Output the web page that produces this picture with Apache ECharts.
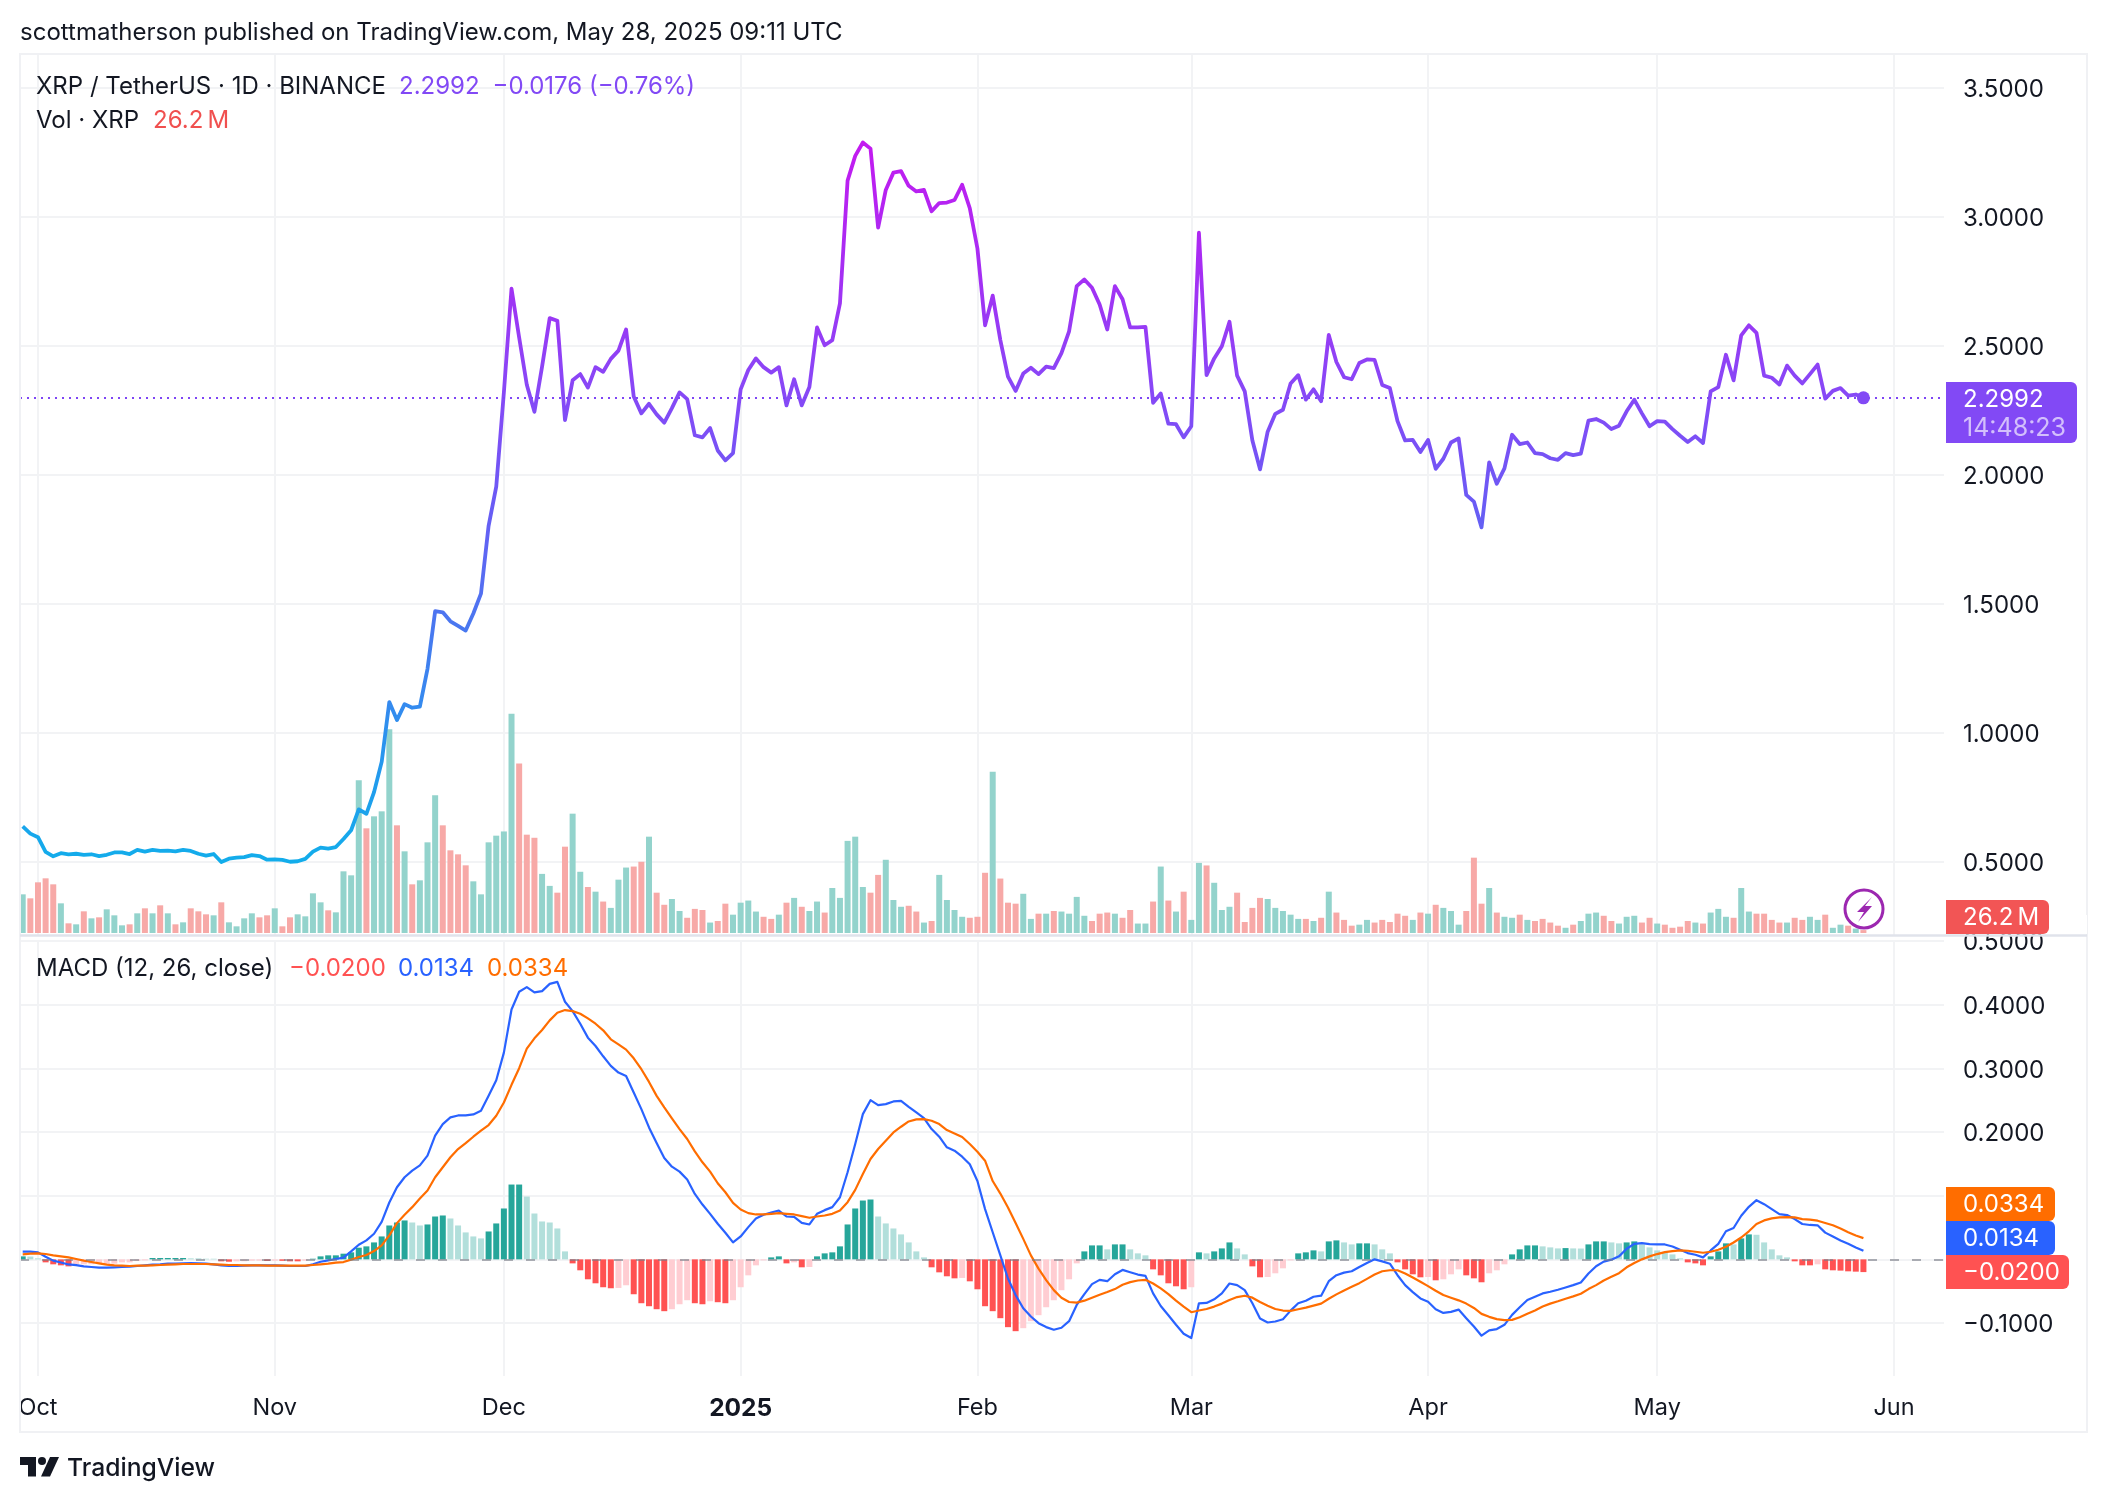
<!DOCTYPE html>
<html><head><meta charset="utf-8">
<style>html,body{margin:0;padding:0;background:#fff}#c{width:2108px;height:1502px}</style>
<script src="https://cdn.jsdelivr.net/npm/echarts@6/dist/echarts.min.js"></script>
</head><body><div id="c"></div>
<script>
const closes = [
.638,.61,.596,.539,.522,.534,.53,.532,.528,.53,
.523,.528,.537,.537,.531,.547,.54,.547,.543,.544,
.541,.547,.543,.532,.525,.531,.5,.513,.517,.519,
.527,.523,.509,.51,.508,.501,.503,.512,.54,.556,
.552,.558,.589,.623,.704,.687,.771,.888,1.12,1.05,
1.112,1.098,1.102,1.249,1.472,1.468,1.433,1.415,1.397,1.463,
1.54,1.803,1.955,2.32,2.722,2.533,2.35,2.245,2.42,2.608,
2.598,2.213,2.367,2.391,2.339,2.418,2.40,2.45,2.482,2.564,
2.304,2.239,2.276,2.235,2.203,2.259,2.32,2.294,2.154,2.146,
2.182,2.095,2.057,2.085,2.332,2.407,2.452,2.418,2.397,2.418,
2.27,2.371,2.27,2.341,2.572,2.503,2.523,2.665,3.141,3.237,
3.289,3.265,2.959,3.105,3.172,3.178,3.121,3.099,3.105,3.022,
3.054,3.056,3.066,3.125,3.034,2.878,2.58,2.695,2.523,2.381,
2.326,2.393,2.416,2.391,2.42,2.414,2.472,2.557,2.732,2.758,
2.726,2.661,2.564,2.732,2.681,2.572,2.572,2.574,2.28,2.316,
2.199,2.197,2.146,2.189,2.939,2.387,2.452,2.499,2.594,2.385,
2.324,2.134,2.022,2.168,2.237,2.253,2.355,2.387,2.292,2.332,
2.286,2.543,2.438,2.379,2.371,2.434,2.448,2.446,2.349,2.337,
2.209,2.134,2.136,2.089,2.136,2.024,2.063,2.126,2.142,1.923,
1.897,1.797,2.049,1.966,2.026,2.156,2.12,2.126,2.085,2.081,
2.065,2.059,2.085,2.077,2.083,2.211,2.217,2.203,2.178,2.191,
2.247,2.292,2.239,2.189,2.209,2.207,2.178,2.152,2.128,2.15,
2.124,2.324,2.341,2.466,2.367,2.541,2.58,2.551,2.385,2.377,
2.351,2.424,2.385,2.355,2.391,2.428,2.296,2.326,2.337,2.308,
2.312,2.2992];

const volumesM = [
348,312,456,492,438,267,87,78,195,132,
141,213,159,69,78,177,222,177,249,177,
78,96,222,195,168,159,276,96,60,132,
177,141,159,222,60,141,168,150,357,276,
204,186,555,519,1374,942,1050,1095,1833,969,
735,438,474,816,1239,969,744,708,609,465,
348,816,876,914,1973,1526,885,857,532,424,
363,777,1074,551,414,372,283,226,480,589,
598,641,867,363,254,306,198,137,217,207,
94,108,264,165,273,292,193,146,127,165,
273,316,236,198,283,184,405,316,829,867,
414,363,523,659,297,236,245,193,94,108,
523,297,207,146,137,146,542,1451,490,273,
264,353,127,174,174,198,193,174,325,155,
108,174,184,174,137,207,85,85,283,598,
292,193,372,118,631,608,452,207,236,363,
99,226,316,306,226,198,165,127,127,108,
137,372,184,118,66,75,118,94,118,99,
174,155,118,184,174,254,226,198,75,198,
678,264,405,184,146,137,165,118,108,127,
94,66,47,75,108,174,184,155,108,85,
146,155,94,137,85,75,47,57,108,94,
85,184,217,146,137,405,193,174,174,118,
94,94,137,118,146,118,165,47,75,66,
40,26.2];

const volumeUp = [
1,0,0,0,0,1,0,1,0,1,
0,1,1,1,0,1,0,1,0,1,
0,1,0,0,0,1,0,1,1,1,
1,0,0,1,0,0,1,1,1,1,
0,1,1,1,1,0,1,1,1,0,
1,0,1,1,1,0,0,0,0,1,
1,1,1,1,1,0,0,0,1,1,
0,0,1,1,0,1,0,1,1,1,
0,0,1,0,0,1,1,0,0,0,
1,0,0,1,1,1,1,0,0,1,
0,1,0,1,1,0,1,1,1,1,
1,0,0,1,1,1,0,0,1,0,
1,1,1,1,0,0,0,1,0,0,
0,1,1,0,1,0,1,1,1,1,
0,0,0,1,0,0,1,1,0,1,
0,1,0,1,1,0,1,1,1,0,
0,0,0,1,1,1,1,1,0,1,
0,1,0,0,0,1,1,0,0,0,
0,0,1,0,1,0,1,1,1,0,
0,0,1,0,1,1,0,1,0,0,
0,0,1,0,1,1,1,0,0,1,
1,1,0,0,1,0,0,0,0,1,
0,1,1,1,0,1,1,0,0,0,
0,1,0,0,1,1,0,1,1,0,
1,0];

const macdLine = [
.012,.012,.011,.004,-.002,-.005,-.008,-.009,-.011,-.012,
-.013,-.013,-.0125,-.012,-.0115,-.0104,-.0094,-.0084,-.0078,-.0068,
-.0068,-.0063,-.0057,-.0063,-.0068,-.0078,-.0094,-.0104,-.0104,-.0099,
-.0094,-.0094,-.0094,-.0094,-.0099,-.0104,-.0104,-.0104,-.0078,-.0037,
-.0016,.0005,.0026,.0125,.023,.0298,.0402,.059,.0893,.1133,
.1289,.1394,.1477,.1629,.1942,.2125,.2229,.226,.226,.2276,
.2333,.2568,.2814,.3247,.3925,.4202,.4275,.4192,.4213,.4327,
.4359,.4046,.3899,.3701,.3482,.3351,.3189,.3038,.2934,.2881,
.262,.2359,.2072,.1827,.1592,.1456,.1378,.1253,.1028,.0861,
.0715,.0559,.0418,.0266,.036,.0506,.0642,.07,.0736,.0767,
.0673,.0668,.0574,.0548,.0715,.0773,.082,.0976,.1368,.1811,
.2281,.25,.2422,.2438,.248,.249,.2396,.2307,.2219,.2046,
.1926,.1759,.1707,.1613,.1493,.123,.0789,.0426,.0062,-.0301,
-.0561,-.0768,-.0898,-.1002,-.1064,-.1105,-.1074,-.0971,-.0716,-.0545,
-.0389,-.0322,-.0343,-.0234,-.0166,-.0202,-.0239,-.026,-.0535,-.0732,
-.0877,-.1028,-.1168,-.1235,-.069,-.0685,-.0628,-.0535,-.0379,-.0405,
-.0483,-.069,-.0929,-.0992,-.0976,-.094,-.0805,-.069,-.0649,-.0587,
-.0571,-.0343,-.0249,-.0208,-.0187,-.0119,-.0057,0,-.0031,-.0068,
-.0249,-.0405,-.0514,-.0613,-.0665,-.0784,-.0841,-.0825,-.0789,-.0924,
-.1054,-.1199,-.1116,-.1095,-.1028,-.0872,-.0753,-.0639,-.0587,-.0535,
-.0509,-.0478,-.0441,-.0405,-.0363,-.0223,-.0109,-.0036,-.0005,.0047,
.0166,.0244,.0254,.0239,.0234,.0234,.0202,.0151,.0099,.0073,
.0031,.014,.0244,.0441,.0493,.0685,.0825,.0929,.0867,.0789,
.0711,.0696,.0633,.0555,.054,.0535,.042,.0358,.0296,.0244,
.0187,.0134];

const signalLine = [
.0078,.0089,.0094,.0084,.0063,.0047,.0031,.0005,-.0021,-.0042,
-.0063,-.0084,-.0094,-.0099,-.0104,-.0099,-.0099,-.0094,-.0089,-.0084,
-.0078,-.0073,-.0073,-.0073,-.0073,-.0078,-.0084,-.0089,-.0089,-.0094,
-.0094,-.0094,-.0099,-.0099,-.0099,-.0099,-.0099,-.0099,-.0089,-.0078,
-.0068,-.0052,-.0042,-.0005,.0037,.0068,.0131,.0219,.0376,.0569,
.07,.082,.0955,.1081,.1289,.1446,.1603,.1733,.1827,.1926,
.202,.2109,.2255,.2464,.2741,.3002,.3309,.3471,.3602,.3753,
.3873,.3915,.3899,.3858,.3785,.3701,.3597,.3456,.3377,.3294,
.3158,.2986,.2787,.2568,.2386,.2213,.2046,.189,.1697,.1524,
.1378,.1195,.1054,.0887,.0783,.0726,.0705,.0705,.0715,.0726,
.0715,.0705,.0679,.0653,.0673,.0689,.0715,.0767,.0898,.1091,
.1342,.1576,.1733,.1864,.1994,.2083,.2166,.2198,.2203,.2177,
.2125,.2031,.1978,.1921,.1811,.1691,.155,.123,.1033,.0815,
.0571,.0322,.0062,-.0145,-.0327,-.0483,-.0602,-.067,-.068,-.0649,
-.0602,-.0555,-.0514,-.0467,-.04,-.0358,-.0332,-.0322,-.0379,-.0457,
-.0545,-.0649,-.0742,-.083,-.0804,-.0779,-.0742,-.0695,-.0638,-.0592,
-.0571,-.0602,-.067,-.0727,-.0779,-.0804,-.081,-.0784,-.0758,-.0727,
-.0695,-.0618,-.055,-.0488,-.0431,-.0374,-.0306,-.0239,-.0187,-.0171,
-.0171,-.0223,-.0285,-.0353,-.042,-.0493,-.0561,-.0602,-.0644,-.0695,
-.0763,-.0856,-.0903,-.0939,-.0955,-.095,-.0908,-.0856,-.0804,-.0742,
-.0695,-.0659,-.0618,-.0581,-.054,-.0467,-.0405,-.0332,-.0275,-.0218,
-.0125,-.0057,0,.0047,.0083,.0114,.013,.014,.0135,.0119,
.0104,.0119,.0151,.0197,.0265,.0343,.0441,.0555,.0612,.0644,
.0659,.0664,.0659,.0633,.0623,.0607,.0571,.0535,.0483,.0426,
.0374,.0334];

const histogram = [
.0047,.0044,.0016,-.0047,-.0078,-.0094,-.011,-.0078,-.0078,-.0076,
-.0073,-.007,-.0068,-.0047,-.0047,-.0026,-.0016,.0021,.0021,.0021,
.0021,.0021,.0016,.0016,.001,.001,-.0031,-.0037,-.0031,-.0029,
-.0021,-.0021,-.0026,-.0021,-.0023,-.0031,-.0031,-.0021,.001,.0047,
.0063,.0063,.0089,.011,.0183,.0204,.0266,.036,.0532,.0579,
.0611,.0579,.0532,.0548,.0673,.0689,.0642,.0532,.0423,.036,
.0329,.0438,.0564,.0799,.1175,.1175,.0987,.072,.0595,.0579,
.0485,.0125,-.0063,-.0172,-.0313,-.0376,-.0438,-.0454,-.0449,-.0407,
-.0548,-.0689,-.0736,-.0783,-.0814,-.0783,-.0705,-.0642,-.0689,-.0705,
-.0658,-.0673,-.0689,-.0642,-.0438,-.0251,-.0094,-.0016,.0031,.0047,
-.0063,-.0047,-.0125,-.012,.0047,.0094,.011,.0204,.0548,.0799,
.0924,.094,.0673,.0564,.0485,.0392,.0266,.0125,.0031,-.0125,
-.0204,-.0266,-.0298,-.0292,-.0345,-.047,-.0736,-.0814,-.0924,-.1065,
-.1128,-.1081,-.0971,-.0877,-.0752,-.0642,-.0485,-.0313,-.0063,.0125,
.0219,.0219,.0157,.0235,.0235,.0157,.0094,.0063,-.0157,-.0251,
-.0376,-.0423,-.047,-.0438,.011,.0094,.0125,.0172,.0266,.0172,
.0078,-.011,-.0282,-.0277,-.0219,-.0141,-.0016,.0094,.011,.0141,
.0125,.0282,.0298,.0266,.0235,.0251,.0251,.0235,.0157,.0094,
-.0047,-.0157,-.0235,-.0282,-.0277,-.0329,-.0313,-.0235,-.0157,-.0251,
-.0298,-.036,-.0219,-.0172,-.0078,.0078,.0157,.0219,.0219,.0204,
.0188,.0172,.0177,.0172,.017,.0235,.0282,.0282,.0266,.0251,
.0266,.0282,.0235,.0188,.0141,.011,.0078,.0016,-.0047,-.0063,
-.0094,.0047,.0125,.0251,.0235,.0329,.0392,.0386,.0266,.0157,
.0063,.0031,-.0031,-.0094,-.0094,-.0078,-.0157,-.0172,-.0177,-.0188,
-.0193,-.02];

const priceTicks = [0.5,1,1.5,2,2.5,3,3.5];
const macdTicks = [-0.1,0,0.1,0.2,0.3,0.4,0.5];
const monthStarts = [[2024,9],[2024,10],[2024,11],[2025,0],[2025,1],[2025,2],[2025,3],[2025,4],[2025,5]];
const monthNames = ['2025','Feb','Mar','Apr','May','Jun','','','','Oct','Nov','Dec'];
const FIRST_DAY = Date.UTC(2024,8,29), DAY = 864e5;
const dates = closes.map((_,i)=>FIRST_DAY+i*DAY);

const FONT='Inter, "Noto Sans", sans-serif', INK='#131722', GRID='#F2F3F5';
const monthTicks = monthStarts.map(m=>Date.UTC(m[0],m[1],1));
const xMin = FIRST_DAY-0.353*DAY, xMax = FIRST_DAY+251.55*DAY;
const fmtY = v => '{a|'+(v<0?'\u2212':'')+Math.abs(v).toFixed(4)+'}';

let prevCol = null;
const histColors = histogram.map((h,i)=>{
  const p = i? histogram[i-1] : h;
  let rising = h>p ? true : h<p ? false : null;
  let c;
  if(rising===null && prevCol!==null && ((prevCol[0]==='g')===(h>=0))) c = prevCol;
  else if(h>=0) c = (rising===false)?'gl':'gd'; else c = (rising===true)?'rl':'rd';
  prevCol=c; return c;
});
const HIST = {gd:'#26A69A',gl:'#B2DFDB',rd:'#FF5252',rl:'#FFCDD2'};

const tx = (text,x,y,fill,size,weight)=>({type:'text',z:100,silent:true,style:{text,x,y,fill,font:`${weight||400} ${size}px ${FONT}`,verticalAlign:'middle',align:'left'}});
const pill = (x,y,w,h,fill)=>({type:'rect',z:99,silent:true,shape:{x,y,width:w,height:h,r:[0,6,6,0]},style:{fill}});

const graphic = [
  {type:'rect',z:98,silent:true,shape:{x:20,y:54,width:2067,height:1378},style:{fill:'none',stroke:'#F0F1F4',lineWidth:2}},
  {type:'rect',z:98,silent:true,shape:{x:1946,y:915,width:141,height:19},style:{fill:'#fff'}},
  {type:'line',z:98,silent:true,shape:{x1:20,y1:935.5,x2:2087,y2:935.5},style:{stroke:'#E0E3EB',lineWidth:2.5}},
  tx('scottmatherson published on TradingView.com, May 28, 2025 09:11 UTC',20,33,INK,24),
  tx('XRP / TetherUS \u00b7 1D \u00b7 BINANCE',36,87,INK,24),
  tx('2.2992',399,87,'#8249F5',24),
  tx('\u22120.0176 (\u22120.76%)',492.5,87,'#8249F5',24),
  tx('Vol \u00b7 XRP',36,121,INK,24),
  tx('26.2\u2009M',153,121,'#F0504F',24),
  tx('MACD (12, 26, close)',36,969,INK,24),
  tx('\u22120.0200',289,969,'#FF5252',24),
  tx('0.0134',398,969,'#2962FF',24),
  tx('0.0334',487,969,'#FF6D00',24),
  pill(1946,382,131,61,'#8249F5'),
  tx('2.2992',1963,399.5,'#fff',24),
  tx('14:48:23',1963,428,'rgba(255,255,255,.65)',25),
  pill(1946,900,103,34,'#F25555'),
  tx('26.2\u2009M',1963,918,'#fff',24),
  pill(1946,1187,109,34,'#FF6D00'),
  tx('0.0334',1963,1205,'#fff',24),
  pill(1946,1221,109,34,'#2962FF'),
  tx('0.0134',1963,1239,'#fff',24),
  pill(1946,1255,123,34,'#FF5252'),
  tx('\u22120.0200',1963,1273,'#fff',24),
  {type:'circle',z:99,silent:true,shape:{cx:1864,cy:909,r:19},style:{fill:'rgba(255,255,255,.6)',stroke:'#9C27B0',lineWidth:3}},
  {type:'polygon',z:99,silent:true,shape:{points:[[1872,897],[1857,912],[1864,912],[1858,922],[1872,906],[1865,906]]},style:{fill:'#9C27B0'}},
  {type:'polygon',z:99,silent:true,shape:{points:[[20,1457],[36,1457],[36,1476.5],[28,1476.5],[28,1465],[20,1465]]},style:{fill:'#131722'}},
  {type:'circle',z:99,silent:true,shape:{cx:42,cy:1461,r:4},style:{fill:'#131722'}},
  {type:'polygon',z:99,silent:true,shape:{points:[[50,1457],[59,1457],[50,1476.5],[41,1476.5]]},style:{fill:'#131722'}},
  tx('TradingView',67,1469,INK,24.7,500)
];

const splitStyle = {show:true,lineStyle:{color:GRID,width:2}};
const xCommon = {type:'value',min:xMin,max:xMax,axisLine:{show:false},scale:true,
  axisTick:{show:false,customValues:monthTicks},splitLine:splitStyle};
const yLabel = ticks => ({customValues:ticks,margin:19,color:INK,fontSize:24,fontFamily:FONT,formatter:fmtY,
  rich:{a:{fontSize:24,fontFamily:FONT,color:INK,padding:[4,0,0,0]}}});

const option = {
  animation:false, backgroundColor:'#fff',
  textStyle:{fontFamily:FONT},
  grid:[
    {left:20,top:54,width:1924,height:881},
    {left:20,top:54,width:1924,height:879},
    {left:20,top:941,width:1924,height:435}
  ],
  xAxis:[
    Object.assign({},xCommon,{gridIndex:0,axisLabel:{show:false,customValues:monthTicks}}),
    Object.assign({},xCommon,{gridIndex:1,show:false}),
    Object.assign({},xCommon,{gridIndex:2,axisLabel:{show:true,customValues:monthTicks,margin:20,color:INK,fontSize:23.5,fontFamily:FONT,hideOverlap:false,
      formatter:v=>{const t=monthNames[new Date(v).getUTCMonth()];return t==='2025'?'{b|2025}':t;},
      rich:{b:{fontWeight:700,fontSize:24.5,color:INK,fontFamily:FONT}}}})
  ],
  yAxis:[
    {type:'value',gridIndex:0,position:'right',min:0.2171,max:3.6318,axisLine:{show:false},
      axisTick:{show:false,customValues:priceTicks},splitLine:splitStyle,axisLabel:yLabel(priceTicks)},
    {type:'value',gridIndex:1,min:0,max:7911,show:false,splitLine:{show:false}},
    {type:'value',gridIndex:2,position:'right',min:-0.1832,max:0.5,axisLine:{show:false},
      axisTick:{show:false,customValues:macdTicks},splitLine:splitStyle,axisLabel:yLabel(macdTicks)}
  ],
  visualMap:[{type:'continuous',show:false,seriesIndex:1,dimension:1,min:0.5,max:3.3,
    inRange:{color:['#12ADEB','#2A93EE','#4B76F0','#6B5AF5','#8A46F6','#A82CF3','#C41AF0']}}],
  series:[
    {name:'Volume',type:'bar',xAxisIndex:1,yAxisIndex:1,barWidth:6,z:1,silent:true,
      data:volumesM.map((v,i)=>({value:[dates[i],v],itemStyle:{color:volumeUp[i]?'#93D3CC':'#F7A9A7'}}))},
    {name:'XRP/USDT',type:'line',xAxisIndex:0,yAxisIndex:0,z:4,symbol:'none',silent:true,
      lineStyle:{width:3.8,join:'round'},data:closes.map((v,i)=>[dates[i],v]),
      markLine:{silent:true,symbol:'none',animation:false,label:{show:false},lineStyle:{color:'#7E45F5',type:[2,5],width:2},data:[{yAxis:closes[closes.length-1]}]},
      markPoint:{silent:true,symbol:'circle',symbolSize:13,label:{show:false},itemStyle:{color:'#8249F5'},
        data:[{coord:[dates[dates.length-1],closes[closes.length-1]]}]}},
    {name:'Histogram',type:'bar',xAxisIndex:2,yAxisIndex:2,barWidth:6,z:2,silent:true,
      data:histogram.map((v,i)=>({value:[dates[i],v],itemStyle:{color:HIST[histColors[i]]}})),
      markLine:{silent:true,symbol:'none',animation:false,label:{show:false},lineStyle:{color:'rgba(120,123,134,.6)',type:[9,13],width:2},data:[{yAxis:0}]}},
    {name:'MACD',type:'line',xAxisIndex:2,yAxisIndex:2,z:3,symbol:'none',silent:true,lineStyle:{color:'#2962FF',width:2.2,join:'round'},data:macdLine.map((v,i)=>[dates[i],v])},
    {name:'Signal',type:'line',xAxisIndex:2,yAxisIndex:2,z:4,symbol:'none',silent:true,lineStyle:{color:'#FF6D00',width:2.2,join:'round'},data:signalLine.map((v,i)=>[dates[i],v])}
  ],
  graphic:{elements:graphic}
};
echarts.init(document.getElementById('c')).setOption(option);
</script></body></html>
